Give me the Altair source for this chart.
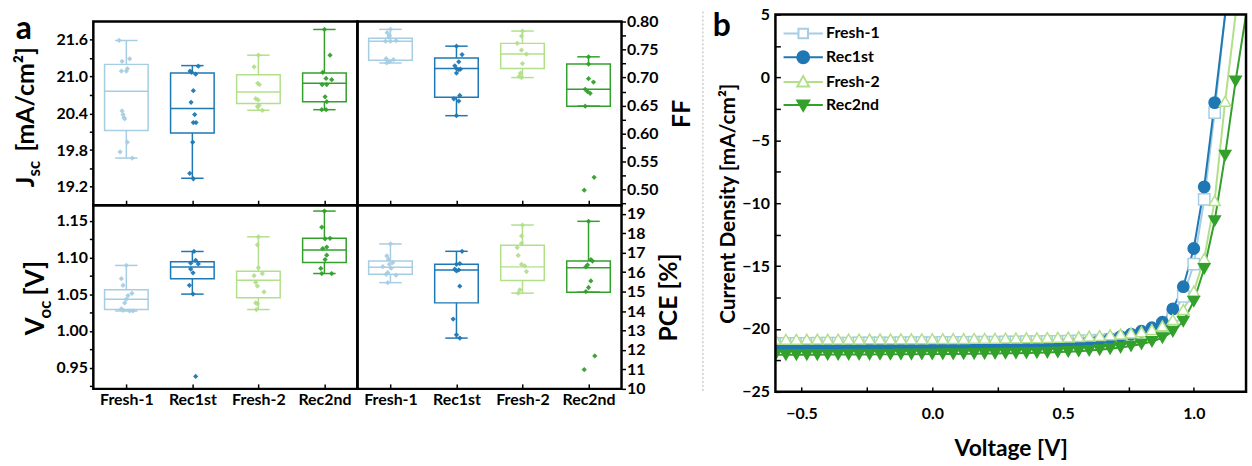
import altair as alt
import pandas as pd

FONT = "Lato"
groups = ["Fresh-1", "Rec1st", "Fresh-2", "Rec2nd"]
palette = ["#a6cee3", "#1f78b4", "#b2df8a", "#33a02c"]
marker_fill = ["white", "#1f78b4", "white", "#33a02c"]
marker_shapes = ["square", "circle", "triangle-up", "triangle-down"]

# ---------------- panel a: box statistics [Fresh-1, Rec1st, Fresh-2, Rec2nd] ----------------
jsc_lo = [19.67, 19.34, 20.45, 20.46]
jsc_q1 = [20.12, 20.08, 20.56, 20.59]
jsc_med = [20.76, 20.48, 20.75, 20.89]
jsc_q3 = [21.20, 21.06, 21.03, 21.06]
jsc_hi = [21.59, 21.18, 21.35, 21.77]

ff_lo = [0.726, 0.632, 0.700, 0.649]
ff_q1 = [0.731, 0.665, 0.716, 0.649]
ff_med = [0.765, 0.716, 0.742, 0.679]
ff_q3 = [0.770, 0.735, 0.761, 0.724]
ff_hi = [0.786, 0.756, 0.783, 0.737]

voc_lo = [1.027, 1.050, 1.029, 1.078]
voc_q1 = [1.029, 1.071, 1.045, 1.093]
voc_med = [1.043, 1.087, 1.069, 1.110]
voc_q3 = [1.056, 1.094, 1.081, 1.126]
voc_hi = [1.089, 1.108, 1.128, 1.163]

pce_lo = [15.46, 12.61, 14.92, 14.97]
pce_q1 = [15.89, 14.42, 15.57, 14.97]
pce_med = [16.25, 16.11, 16.27, 16.23]
pce_q3 = [16.57, 16.40, 17.38, 16.57]
pce_hi = [17.45, 17.07, 18.42, 18.61]

# ---------------- panel a: individual devices (value, horizontal scatter in category units) ----------------
jsc_pts = [
    [21.59, 21.25, 21.29, 21.09, 21.09, 21.13, 20.44, 20.38, 20.33, 20.31, 19.93, 19.77, 19.67],
    [21.09, 21.07, 21.04, 21.17, 20.77, 20.58, 20.38, 20.25, 20.25, 19.93, 19.42, 19.33],
    [21.35, 21.16, 20.89, 20.87, 20.64, 20.62, 20.53, 20.51, 20.45],
    [21.77, 21.35, 21.07, 20.97, 20.95, 20.87, 20.87, 20.67, 20.59, 20.46, 20.46],
]
jsc_jit = [
    [-0.11, -0.065, 0.05, -0.075, 0.0, 0.015, -0.065, -0.05, -0.035, -0.025, 0.015, -0.095, 0.09],
    [-0.035, -0.01, 0.05, 0.09, 0.015, -0.02, 0.035, 0.015, 0.055, 0.005, -0.04, 0.015],
    [0.0, -0.065, -0.01, 0.015, -0.04, -0.005, 0.01, -0.015, 0.06],
    [0.0, 0.085, -0.025, 0.025, 0.11, -0.035, 0.035, 0.01, 0.035, -0.04, 0.025],
]
ff_pts = [
    [0.786, 0.780, 0.775, 0.772, 0.765, 0.765, 0.766, 0.734, 0.729, 0.732, 0.726],
    [0.756, 0.741, 0.728, 0.721, 0.716, 0.714, 0.715, 0.708, 0.668, 0.662, 0.658, 0.632],
    [0.783, 0.774, 0.761, 0.749, 0.742, 0.725, 0.708, 0.702, 0.700],
    [0.737, 0.724, 0.698, 0.692, 0.679, 0.675, 0.672, 0.649, 0.522, 0.499],
]
ff_jit = [
    [0.0, -0.05, -0.015, -0.025, -0.075, 0.0, 0.085, -0.065, -0.015, 0.045, -0.055],
    [0.0, 0.085, 0.035, -0.025, 0.0, 0.035, 0.06, 0.0, 0.05, -0.04, 0.035, 0.0],
    [0.0, -0.015, -0.08, -0.015, 0.06, 0.0, -0.03, -0.05, -0.015],
    [0.0, 0.0, 0.0, 0.075, -0.05, -0.015, 0.025, -0.05, 0.085, -0.065],
]
voc_pts = [
    [1.089, 1.071, 1.062, 1.051, 1.048, 1.043, 1.038, 1.030, 1.028, 1.027, 1.027],
    [1.108, 1.096, 1.091, 1.092, 1.084, 1.079, 1.062, 1.050, 0.938],
    [1.128, 1.117, 1.086, 1.078, 1.075, 1.066, 1.061, 1.053, 1.038, 1.037, 1.029],
    [1.163, 1.141, 1.125, 1.126, 1.114, 1.112, 1.103, 1.097, 1.085, 1.078, 1.078],
]
voc_jit = [
    [0.0, -0.075, -0.05, 0.085, 0.025, 0.0, -0.025, -0.075, -0.05, 0.05, 0.1],
    [0.025, 0.05, 0.09, -0.025, -0.025, 0.01, -0.045, 0.01, 0.05],
    [0.0, -0.015, 0.0, 0.06, -0.065, -0.04, -0.015, 0.085, -0.04, -0.015, -0.03],
    [0.0, -0.04, 0.01, 0.085, 0.035, -0.025, 0.035, 0.01, -0.055, 0.11, -0.04],
]
pce_pts = [
    [17.45, 16.83, 16.66, 16.40, 16.49, 16.28, 16.20, 15.98, 15.89, 15.84, 15.46],
    [17.07, 16.40, 16.44, 16.15, 16.06, 16.11, 15.28, 13.59, 12.78, 12.61],
    [18.42, 17.86, 17.48, 17.26, 16.86, 16.40, 16.32, 16.03, 15.09, 14.92],
    [18.61, 16.64, 16.57, 16.37, 16.27, 15.55, 15.21, 15.00, 11.69, 10.99],
]
pce_jit = [
    [0.0, -0.055, -0.03, -0.015, 0.035, -0.115, 0.01, -0.04, -0.065, 0.085, -0.04],
    [0.085, 0.0, 0.05, -0.025, 0.0, 0.035, 0.05, -0.05, 0.0, 0.05],
    [0.0, -0.015, -0.015, -0.08, -0.065, -0.015, 0.035, 0.06, -0.04, -0.065],
    [0.0, 0.035, 0.06, -0.015, -0.04, 0.035, 0.0, -0.04, 0.095, -0.065],
]

# axis ticks
jsc_major = [19.2, 19.8, 20.4, 21.0, 21.6]
jsc_minor = [19.5, 20.1, 20.7, 21.3]
ff_major = [0.50, 0.55, 0.60, 0.65, 0.70, 0.75, 0.80]
ff_minor = [0.475, 0.525, 0.575, 0.625, 0.675, 0.725, 0.775]
voc_major = [0.95, 1.00, 1.05, 1.10, 1.15]
voc_minor = [0.925, 0.975, 1.025, 1.075, 1.125]
pce_major = [10, 11, 12, 13, 14, 15, 16, 17, 18, 19]

# ---------------- panel b: J-V curves ----------------
voltage = [-0.60, -0.56, -0.52, -0.48, -0.44, -0.40, -0.36, -0.32, -0.28, -0.24, -0.20, -0.16,
           -0.12, -0.08, -0.04, 0.00, 0.04, 0.08, 0.12, 0.16, 0.20, 0.24, 0.28, 0.32, 0.36, 0.40,
           0.44, 0.48, 0.52, 0.56, 0.60, 0.64, 0.68, 0.72, 0.76, 0.80, 0.84, 0.88, 0.92, 0.96,
           1.00, 1.04, 1.08, 1.12, 1.16, 1.20]
j_fresh1 = [-21.15, -21.15, -21.14, -21.14, -21.13, -21.13, -21.12, -21.12, -21.11, -21.11, -21.10, -21.10,
            -21.09, -21.09, -21.08, -21.08, -21.07, -21.07, -21.06, -21.05, -21.05, -21.04, -21.03, -21.02,
            -21.01, -21.00, -20.99, -20.98, -20.96, -20.94, -20.92, -20.88, -20.83, -20.77, -20.68, -20.52,
            -20.25, -19.75, -18.90, -17.40, -14.85, -9.70, -2.80, 6.00]
j_rec1 = [-21.46, -21.46, -21.45, -21.45, -21.45, -21.44, -21.44, -21.44, -21.43, -21.43, -21.43, -21.42,
          -21.42, -21.41, -21.41, -21.40, -21.40, -21.39, -21.38, -21.37, -21.36, -21.35, -21.33, -21.31,
          -21.29, -21.26, -21.23, -21.19, -21.14, -21.08, -21.00, -20.90, -20.78, -20.62, -20.42, -20.18,
          -19.90, -19.46, -18.40, -16.64, -13.60, -8.70, -2.00, 6.50]
j_fresh2 = [-20.82, -20.82, -20.82, -20.81, -20.81, -20.81, -20.80, -20.80, -20.80, -20.79, -20.79, -20.79,
            -20.78, -20.78, -20.78, -20.77, -20.77, -20.76, -20.76, -20.75, -20.75, -20.74, -20.73, -20.72,
            -20.71, -20.70, -20.68, -20.66, -20.64, -20.61, -20.57, -20.52, -20.46, -20.40, -20.32, -20.22,
            -20.05, -19.75, -19.25, -18.45, -17.00, -14.40, -9.80, -1.90, 7.00]
j_rec2 = [-22.06, -22.06, -22.05, -22.05, -22.05, -22.04, -22.04, -22.03, -22.03, -22.03, -22.02, -22.02,
          -22.01, -22.01, -22.00, -22.00, -21.99, -21.99, -21.98, -21.97, -21.96, -21.95, -21.94, -21.93,
          -21.91, -21.89, -21.87, -21.84, -21.81, -21.77, -21.72, -21.66, -21.58, -21.48, -21.36, -21.20,
          -21.00, -20.70, -20.20, -19.40, -17.80, -15.20, -11.40, -6.20, -0.30, 6.50]
jv_x_major = [-0.5, 0.0, 0.5, 1.0]
jv_x_minor = [-0.25, 0.25, 0.75]
jv_y_major = [-25, -20, -15, -10, -5, 0, 5]
jv_y_minor = [-22.5, -17.5, -12.5, -7.5, -2.5, 2.5]

# ---------------- helpers ----------------
W_BOX, H_BOX = 266, 185
W_JV, H_JV = 474, 380
SHIFT = 7          # panel b's frame sits this many pixels higher than panel a's
LBL = 16


def box_frame(lo, q1, med, q3, hi):
    return pd.DataFrame({"group": groups, "idx": list(range(4)), "lo": lo, "q1": q1,
                         "med": med, "q3": q3, "hi": hi})


def point_frame(vals, jit):
    rows = []
    for i, (vs, js) in enumerate(zip(vals, jit)):
        for v, j in zip(vs, js):
            rows.append({"group": groups[i], "idx": i, "value": v, "jit": j})
    return pd.DataFrame(rows)


def txt(text, x, y, size, angle=0, align="left", baseline="alphabetic"):
    return alt.Chart(pd.DataFrame({"t": [text]})).mark_text(
        text=text, font=FONT, fontWeight="bold", fontSize=size, angle=angle,
        align=align, baseline=baseline, color="black"
    ).encode(x=alt.value(x), y=alt.value(y))


def y_axis(orient, majors, minors, fmt, title=None):
    vals = sorted(majors + minors)
    maj = ",".join("'" + format(v, fmt) + "'" for v in majors)
    expr = f"indexof([{maj}], format(datum.value, '{fmt}')) >= 0 ? format(datum.value, '{fmt}') : ''"
    kw = dict(orient=orient, values=vals, labelExpr=expr, tickSize=4, tickWidth=1.5,
              labelPadding=1 if orient == "right" else 2, domain=False, grid=False,
              labelFontSize=LBL)
    if title:
        kw.update(title=title, titleAngle=270, titleBaseline="top", titleFontSize=25,
                  titlePadding=12)
    else:
        kw["title"] = None
    return alt.Axis(**kw)


def x_axis_box(show_labels):
    names = ",".join(f"'{g}'" for g in groups)
    return alt.Axis(values=[0, 1, 2, 3], labelExpr=f"[{names}][datum.value]", labels=show_labels,
                    tickSize={"expr": "-5"}, tickWidth=1.5, labelPadding=8, domain=False,
                    grid=False, title=None, labelFontSize=LBL)


def box_panel(box_df, pts_df, domain, yax, show_x, extra):
    xax = x_axis_box(show_x)
    xs = alt.Scale(domain=[-0.5, 3.5], nice=False, zero=False)
    ys = alt.Scale(domain=domain, nice=False, zero=False)
    X = lambda f: alt.X(f, type="quantitative", scale=xs, axis=xax)
    Y = lambda f: alt.Y(f, type="quantitative", scale=ys, axis=yax)
    col = alt.Color("group:N", scale=alt.Scale(domain=groups, range=palette), legend=None)
    stk = alt.Stroke("group:N", scale=alt.Scale(domain=groups, range=palette), legend=None)
    base = alt.Chart(box_df).transform_calculate(
        cl="datum.idx - 0.17", cr="datum.idx + 0.17",
        bl="datum.idx - 0.33", br="datum.idx + 0.33")
    w_lo = base.mark_rule(strokeWidth=1.5).encode(x=X("idx"), y=Y("lo"), y2="q1", color=col)
    w_hi = base.mark_rule(strokeWidth=1.5).encode(x=X("idx"), y=Y("q3"), y2="hi", color=col)
    c_lo = base.mark_rule(strokeWidth=1.5).encode(x=X("cl"), x2="cr", y=Y("lo"), color=col)
    c_hi = base.mark_rule(strokeWidth=1.5).encode(x=X("cl"), x2="cr", y=Y("hi"), color=col)
    box = base.mark_rect(fillOpacity=0, strokeWidth=1.5).encode(
        x=X("bl"), x2="br", y=Y("q1"), y2="q3", stroke=stk)
    med = base.mark_rule(strokeWidth=1.5).encode(x=X("bl"), x2="br", y=Y("med"), color=col)
    pts = alt.Chart(pts_df).transform_calculate(xp="datum.idx + datum.jit").mark_point(
        shape="diamond", filled=True, size=28, opacity=0.95).encode(
        x=X("xp"), y=Y("value"), color=col)
    return alt.layer(w_lo, w_hi, c_lo, c_hi, box, med, pts, *extra).properties(
        width=W_BOX, height=H_BOX)


# ---------------- panel a ----------------
jsc_chart = box_panel(
    box_frame(jsc_lo, jsc_q1, jsc_med, jsc_q3, jsc_hi), point_frame(jsc_pts, jsc_jit),
    [18.9, 21.9], y_axis("left", jsc_major, jsc_minor, ".1f"), False,
    [txt("J", -60, 167, 25, 270), txt("sc", -54, 156, 17, 270),
     txt("[mA/cm²]", -60, 131, 25, 270), txt("a", -70, 8, 32, 0, "center", "middle")])
ff_chart = box_panel(
    box_frame(ff_lo, ff_q1, ff_med, ff_q3, ff_hi), point_frame(ff_pts, ff_jit),
    [0.4723, 0.80], y_axis("right", ff_major, ff_minor, ".2f", "FF"), False, [])
voc_chart = box_panel(
    box_frame(voc_lo, voc_q1, voc_med, voc_q3, voc_hi), point_frame(voc_pts, voc_jit),
    [0.921, 1.171], y_axis("left", voc_major, voc_minor, ".2f"), True,
    [txt("V", -50, 131, 26, 270), txt("oc", -43, 114, 17, 270),
     txt("[V]", -50, 91, 26, 270)])
pce_chart = box_panel(
    box_frame(pce_lo, pce_q1, pce_med, pce_q3, pce_hi), point_frame(pce_pts, pce_jit),
    [10, 19.44], y_axis("right", pce_major, [], ".0f", "PCE [%]"), True, [])

panel_a = alt.concat(jsc_chart, ff_chart, voc_chart, pce_chart, columns=2, spacing=0,
                     bounds="flush")

# ---------------- panel b ----------------
series_j = [j_fresh1, j_rec1, j_fresh2, j_rec2]
rows = []
for s, js in zip(groups, series_j):
    for v, j in zip(voltage, js):
        rows.append({"series": s, "V": v, "J": j})
jv = pd.DataFrame(rows)

xb = alt.X("V:Q", scale=alt.Scale(domain=[-0.6, 1.2], nice=False, zero=False),
           axis=alt.Axis(values=sorted(jv_x_major + jv_x_minor),
                         labelExpr="datum.value * 2 == round(datum.value * 2) ? format(datum.value, '.1f') : ''",
                         tickSize={"expr": "-5"}, tickWidth=1.5, labelPadding=19, domain=False,
                         grid=False, title="Voltage [V]", titleFontSize=23, titlePadding=16,
                         labelFontSize=LBL, offset=-SHIFT))
yb = alt.Y("J:Q", scale=alt.Scale(domain=[-25, 5], range=[H_JV - SHIFT, -SHIFT], clamp=True,
                                  nice=False, zero=False),
           axis=alt.Axis(values=sorted(jv_y_major + jv_y_minor),
                         labelExpr="datum.value % 5 == 0 ? format(datum.value, 'd') : ''",
                         tickSize={"expr": "-5"}, tickWidth=1.5, labelPadding=11, domain=False,
                         grid=False, title="Current Density [mA/cm²]", titleFontSize=21,
                         titlePadding=3, labelFontSize=LBL))

lines = alt.Chart(jv).mark_line(strokeWidth=2).encode(
    x=xb, y=yb, color=alt.Color("series:N", scale=alt.Scale(domain=groups, range=palette), legend=None),
    order=alt.Order("V:Q"))
markers = alt.Chart(jv).transform_filter("datum.J <= 5").mark_point(
    filled=True, size=130, strokeWidth=1.5, opacity=1, clip=True).encode(
    x=xb, y=yb,
    shape=alt.Shape("series:N", scale=alt.Scale(domain=groups, range=marker_shapes), legend=None),
    stroke=alt.Stroke("series:N", scale=alt.Scale(domain=groups, range=palette), legend=None),
    fill=alt.Fill("series:N", scale=alt.Scale(domain=groups, range=marker_fill), legend=None))

legend_paths = [
    "M-3.3,0H-0.8M0.8,0H3.3M-0.8,-0.8H0.8V0.8H-0.8Z",
    "M-3.3,0H-1M1,0H3.3M-1,0A1,1,0,1,1,1,0A1,1,0,1,1,-1,0Z",
    "M-3.3,0H-0.6M0.6,0H3.3M0,-1L1,0.75H-1Z",
    "M-3.3,0H-0.6M0.6,0H3.3M-1,-0.75H1L0,1Z",
]
leg = alt.Legend(orient="none", legendX=20, legendY=11 - SHIFT, title=None, labelFont=FONT,
                 labelFontSize=LBL, labelFontWeight="bold", labelColor="black",
                 symbolSize=144, symbolStrokeWidth=2, symbolOpacity=1, symbolOffset=0,
                 labelOffset=15, rowPadding=5, padding=0)
legend_layer = alt.Chart(pd.DataFrame({"series": groups})).mark_point(
    filled=True, opacity=0).encode(
    shape=alt.Shape("series:N", scale=alt.Scale(domain=groups, range=legend_paths), legend=leg),
    stroke=alt.Stroke("series:N", scale=alt.Scale(domain=groups, range=palette), legend=leg),
    fill=alt.Fill("series:N", scale=alt.Scale(domain=groups, range=marker_fill), legend=leg))

frame_b = alt.Chart(pd.DataFrame({"f": [0]})).mark_rect(
    fillOpacity=0, stroke="black", strokeWidth=2.5).encode(
    x=alt.value(0), x2=alt.value(W_JV), y=alt.value(-SHIFT), y2=alt.value(H_JV - SHIFT))

sep = alt.Chart(pd.DataFrame({"d": [0]})).mark_rule(
    color="#b4b4b4", strokeDash=[2, 2], strokeWidth=1).encode(
    x=alt.value(-73), y=alt.value(-3 - SHIFT), y2=alt.value(381 - SHIFT))

panel_b = alt.layer(lines, markers, legend_layer, frame_b, sep,
                    txt("b", -54, 12 - SHIFT, 32, 0, "center", "middle")).resolve_scale(
    shape="independent", stroke="independent", fill="independent").properties(
    width=W_JV, height=H_JV, view=alt.ViewBackground(stroke=None))

chart = alt.hconcat(panel_a, panel_b, spacing=6).properties(
    padding={"left": 12, "top": 5, "right": 2, "bottom": 2}
).configure_axis(
    labelFont=FONT, titleFont=FONT, labelFontWeight="bold", titleFontWeight="bold",
    labelColor="black", titleColor="black", tickColor="black"
).configure_view(stroke="black", strokeWidth=2.5)

chart.save("out.html", embed_options={"renderer": "svg", "actions": False})
